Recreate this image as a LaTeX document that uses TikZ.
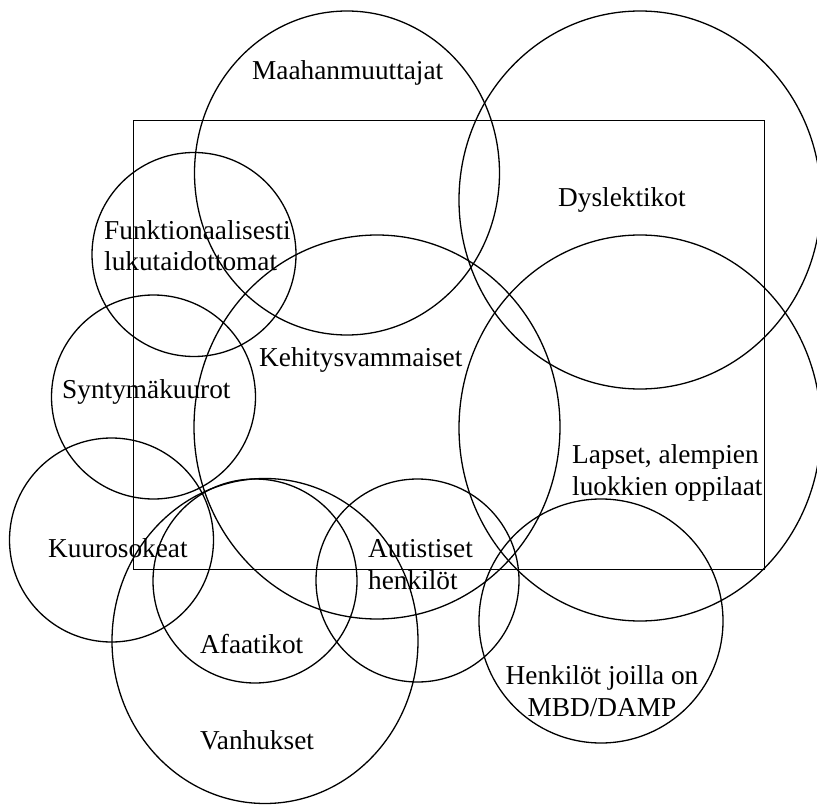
\documentclass[tikz,border=0pt]{standalone}
\usepackage{fontspec}
\setmainfont{Liberation Serif}
\begin{document}
\begin{tikzpicture}[x=1pt,y=-1pt,
        ring/.style={line width=1.3pt},
        lbl/.style={font=\fontsize{27.3}{31.5}\selectfont, inner sep=0pt, anchor=base west}]
    \useasboundingbox (0,0) rectangle (817,805);
    \clip (0,0) rectangle (817,805);
    \draw[line width=1pt] (133,121) rectangle (764,569);
    % big ones
    \draw[ring] (347,173) ellipse (152.5pt and 162pt);
    \draw[ring] (640,200) ellipse (181pt and 189pt);
    \draw[ring] (377,427) ellipse (183pt and 192pt);
    \draw[ring] (640,428) ellipse (181pt and 193pt);
    \draw[ring] (265,641) ellipse (153pt and 162.5pt);
    % small ones
    \draw[ring] (194,254.5) circle (102pt);
    \draw[ring] (153.5,397) circle (102pt);
    \draw[ring] (111.5,540) circle (102pt);
    \draw[ring] (255,581) circle (102pt);
    \draw[ring] (417.5,580.5) circle (101.5pt);
    \draw[ring] (601,621) circle (122pt);
    % texts (two-line ones sit on their last line)
    \node[lbl] (maahan) at (252,80) {Maahanmuuttajat};
    \node[lbl] (dysl) at (558,207) {Dyslektikot};
    \node[lbl, align=left] (funkt) at (104,271) {Funktionaalisesti\\lukutaidottomat};
    \node[lbl] (kehit) at (259,366) {Kehitysvammaiset};
    \node[lbl] (synty) at (62,398) {Syntymäkuurot};
    \node[lbl, align=left] (lapset) at (572,495) {Lapset, alempien\\luokkien oppilaat};
    \node[lbl] (kuuro) at (48,557) {Kuurosokeat};
    \node[lbl, align=left] (autist) at (368,589) {Autistiset\\henkilöt};
    \node[lbl] (afaat) at (200,653) {Afaatikot};
    \node[lbl] (vanh) at (200,749) {Vanhukset};
    \node[lbl, align=center, anchor=base] (mbd) at (602,716) {Henkilöt joilla on\\MBD/DAMP};
\end{tikzpicture}
\end{document}
